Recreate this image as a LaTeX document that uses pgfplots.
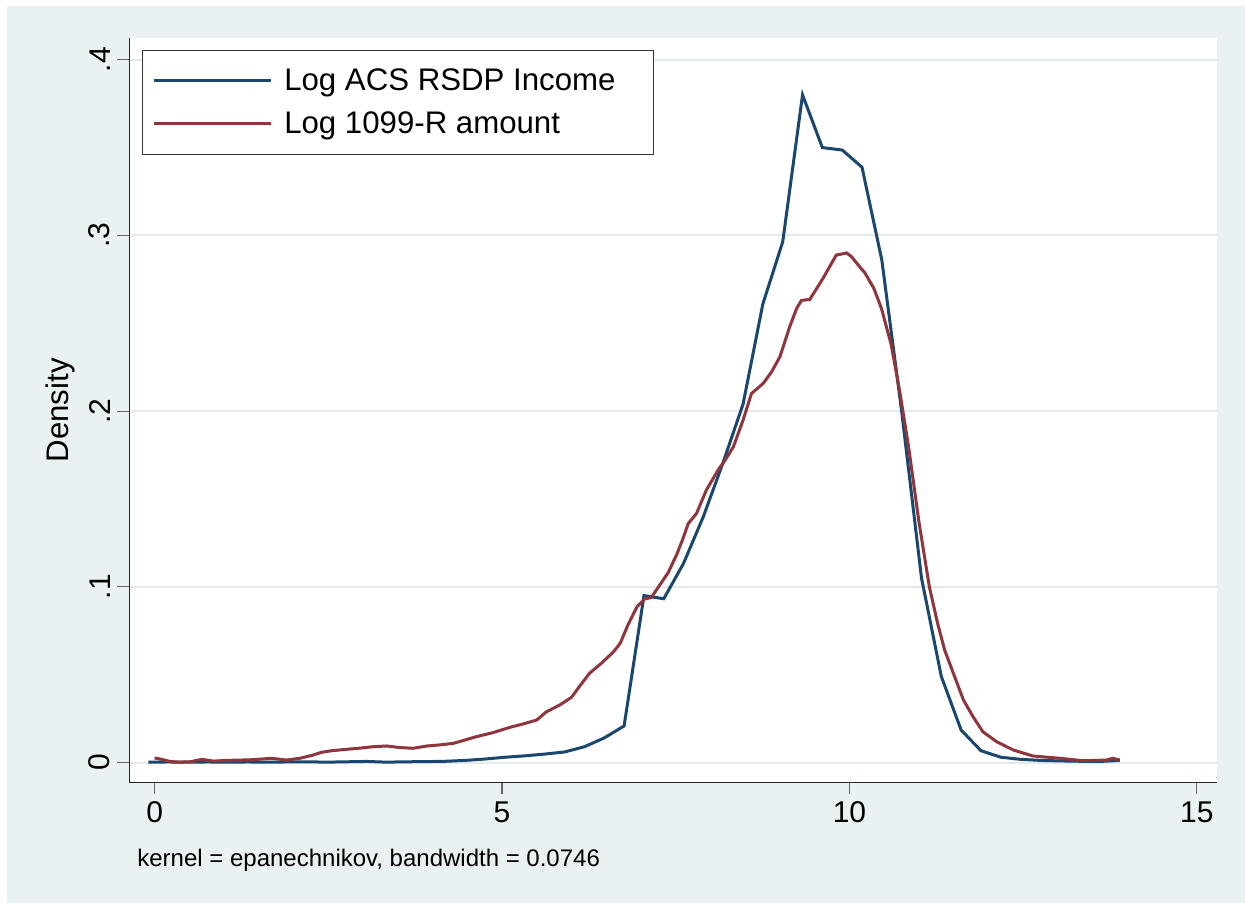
\documentclass[border=0pt]{standalone}
\usepackage{fontspec}
\setmainfont{Liberation Sans}
\usepackage{pgfplots}
\pgfplotsset{compat=1.18}
\definecolor{bgc}{RGB}{234,241,243}
\definecolor{gridc}{RGB}{228,234,236}
\definecolor{navyc}{RGB}{26,71,111}
\definecolor{maroonc}{RGB}{144,53,59}
\begin{document}
\begin{tikzpicture}[x=1pt,y=1pt]
\useasboundingbox (0,0) rectangle (622.5,-451.5);
\fill[white] (0,0) rectangle (622.5,-451.5);
\fill[bgc] (3.5,-3) rectangle (622.5,-451.5);
\begin{axis}[
  at={(64.65pt,-19.15pt)}, anchor=north west,
  scale only axis, width=543.85pt, height=372pt,
  xmin=-0.364, xmax=15.29, ymin=-0.01127, ymax=0.4122,
  axis background/.style={fill=white},
  axis x line*=bottom, axis y line*=left,
  axis line style={-, line width=0.7pt, black!85},
  xtick={0,5,10,15},
  ytick={0,0.1,0.2,0.3,0.4},
  yticklabels={0,.1,.2,.3,.4},
  tick align=outside, major tick length=6pt,
  tick style={line width=0.6pt, black!60},
  ymajorgrids, major grid style={gridc, line width=1pt},
  xticklabel style={font=\fontsize{15}{18}\selectfont, /pgf/number format/assume math mode=true},
  yticklabel style={font=\fontsize{15}{18}\selectfont, rotate=90, anchor=south},
  ylabel={Density},
  every axis y label/.style={at={(rel axis cs:-0.0637,0.5)}, rotate=90, anchor=center, font=\fontsize{15.6}{18}\selectfont},
  legend style={at={(rel axis cs:0,1)}, anchor=north west, xshift=6.25pt, yshift=-5.85pt,
    draw=black!80, line width=0.5pt, fill=white, font=\fontsize{15.6}{18}\selectfont,
    inner xsep=5pt, inner ysep=7pt, row sep=5pt,
    /tikz/every odd column/.append style={column sep=4pt}},
  legend cell align=left,
  legend image code/.code={\draw[#1, line width=1.5pt] (0pt,0pt) -- (58.5pt,0pt);},
]
\addplot[navyc, line width=1.5pt] coordinates {
(-0.090,0.0002)(0.195,0.0003)(0.481,0.0002)(0.766,0.0003)(1.051,0.0002)
(1.337,0.0003)(1.622,0.0002)(1.907,0.0003)(2.192,0.0004)(2.478,0.0002)
(2.763,0.0004)(3.048,0.0006)(3.334,0.0002)(3.619,0.0004)(3.904,0.0005)
(4.190,0.0007)(4.475,0.0012)(4.760,0.0020)(5.045,0.0030)(5.331,0.0038)
(5.616,0.0048)(5.901,0.0060)(6.187,0.0090)(6.472,0.0140)(6.757,0.0208)
(7.043,0.0950)(7.328,0.0932)(7.613,0.1134)(7.898,0.1400)(8.184,0.1710)
(8.469,0.2040)(8.754,0.2610)(9.040,0.2964)(9.325,0.3800)(9.610,0.3500)
(9.896,0.3486)(10.181,0.3388)(10.466,0.2860)(10.751,0.2000)(11.037,0.1050)
(11.322,0.0490)(11.607,0.0185)(11.893,0.0067)(12.178,0.0030)(12.463,0.0018)
(12.749,0.0012)(13.034,0.0009)(13.319,0.0007)(13.605,0.0006)(13.890,0.0012)
};
\addlegendentry{Log ACS RSDP Income\hspace*{12pt}}
\addplot[maroonc, line width=1.5pt] coordinates {
(0.00,0.0026)(0.10,0.0018)(0.22,0.0006)(0.35,0.0002)(0.51,0.0004)
(0.68,0.0018)(0.85,0.0008)(1.04,0.0012)(1.25,0.0014)(1.42,0.0016)
(1.68,0.0024)(1.90,0.0014)(2.09,0.0024)(2.28,0.0042)(2.40,0.0058)
(2.55,0.0067)(2.76,0.0075)(2.96,0.0082)(3.15,0.0090)(3.34,0.0094)
(3.53,0.0085)(3.72,0.0081)(3.92,0.0094)(4.10,0.0100)(4.30,0.0109)
(4.63,0.0147)(4.87,0.0170)(5.11,0.0200)(5.30,0.0219)(5.50,0.0242)
(5.64,0.0289)(5.83,0.0327)(6.00,0.0371)(6.12,0.0436)(6.26,0.0508)
(6.43,0.0565)(6.60,0.0628)(6.70,0.0678)(6.82,0.0790)(6.94,0.0885)
(7.05,0.0930)(7.15,0.0940)(7.27,0.1010)(7.39,0.1080)(7.51,0.1180)
(7.60,0.1270)(7.68,0.1360)(7.80,0.1418)(7.94,0.1550)(8.11,0.1665)
(8.21,0.1720)(8.33,0.1797)(8.47,0.1950)(8.59,0.2100)(8.76,0.2158)
(8.88,0.2224)(9.00,0.2310)(9.14,0.2480)(9.24,0.2585)(9.31,0.2630)
(9.43,0.2636)(9.62,0.2756)(9.81,0.2888)(9.96,0.2900)(10.03,0.2879)
(10.15,0.2820)(10.22,0.2788)(10.35,0.2700)(10.46,0.2585)(10.60,0.2380)
(10.72,0.2120)(10.85,0.1800)(11.00,0.1370)(11.15,0.1000)(11.27,0.0790)
(11.37,0.0640)(11.64,0.0356)(11.78,0.0260)(11.92,0.0175)(12.12,0.0118)
(12.36,0.0071)(12.64,0.0037)(13.03,0.0024)(13.36,0.0010)(13.70,0.0014)
(13.79,0.0024)(13.89,0.0014)
};
\addlegendentry{Log 1099-R amount}
\end{axis}
\node[anchor=base west, inner sep=0pt, font=\fontsize{12}{14}\selectfont] at (68.5,-433) {kernel = epanechnikov, bandwidth = 0.0746};
\end{tikzpicture}
\end{document}
